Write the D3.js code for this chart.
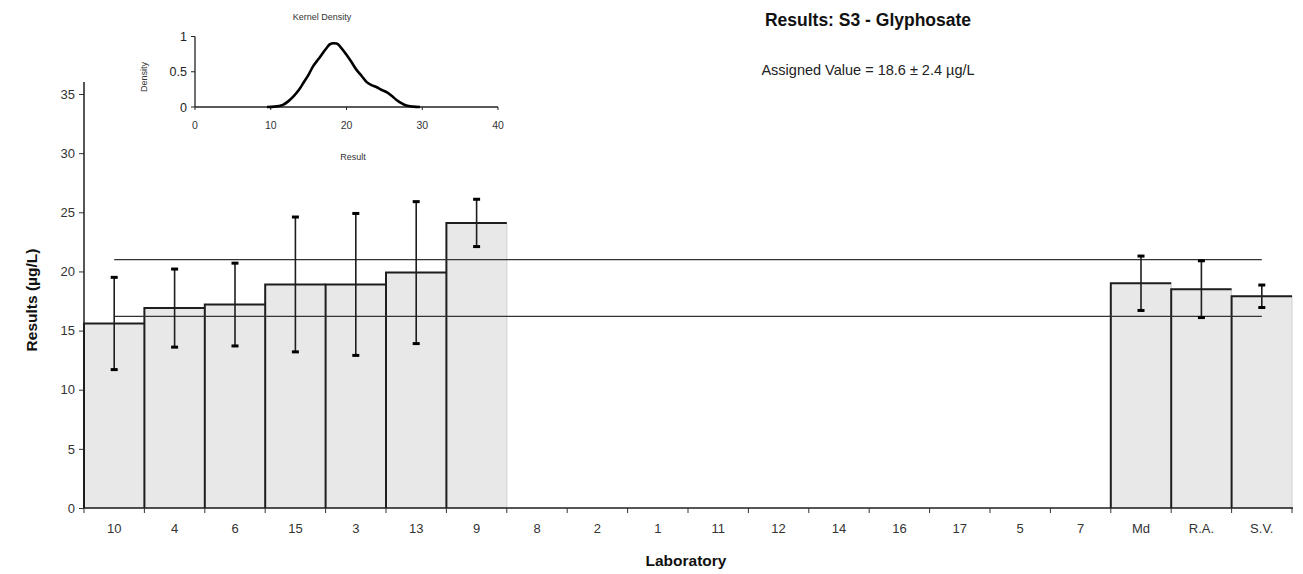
<!DOCTYPE html>
<html>
<head>
<meta charset="utf-8">
<script src="https://cdn.jsdelivr.net/npm/d3@7"></script>
<style>
  html, body { margin: 0; padding: 0; background: #fff; }
  svg { display: block; font-family: "Liberation Sans", Arial, sans-serif; }
</style>
</head>
<body>
<svg id="chart" width="1303" height="574"></svg>
<script>
// Laboratory codes in plotted order, with reported results and expanded uncertainties
const labs = ["10", "4", "6", "15", "3", "13", "9", "8", "2", "1", "11", "12", "14", "16", "17", "5", "7", "Md", "R.A.", "S.V."];
const results = [15.6, 16.9, 17.2, 18.9, 18.9, 19.9, 24.1, null, null, null, null, null, null, null, null, null, null, 19.0, 18.5, 17.9];
const uncertainties = [3.9, 3.3, 3.5, 5.7, 6.0, 6.0, 2.0, null, null, null, null, null, null, null, null, null, null, 2.3, 2.4, 0.95];
const yTicks = [0, 5, 10, 15, 20, 25, 30, 35];

// Assigned value and its uncertainty
const assignedValue = 18.6;
const assignedUnc = 2.4;

// Kernel density estimate of the reported results
const kdResult = [9.5, 10.5, 11.6, 12.3, 13.0, 13.7, 14.3, 15.0, 15.6, 16.3, 16.9, 17.4, 17.8, 18.3, 18.7, 19.3, 20.0, 20.7, 21.3, 22.0, 22.6, 23.3, 24.0, 24.6, 25.3, 26.0, 26.6, 27.3, 27.9, 28.8, 29.7];
const kdDensity = [0.0, 0.005, 0.03, 0.08, 0.15, 0.24, 0.34, 0.46, 0.58, 0.68, 0.77, 0.84, 0.89, 0.905, 0.9, 0.84, 0.74, 0.63, 0.53, 0.44, 0.36, 0.31, 0.28, 0.245, 0.21, 0.155, 0.1, 0.05, 0.02, 0.005, 0.0];
const kdXTicks = [0, 10, 20, 30, 40];
const kdYTicks = [0, 0.5, 1];

const svg = d3.select("#chart");
const ink = "#1e1e1e";

// ---- Main chart scales ----
const x = d3.scaleBand().domain(labs).range([84, 1292]).padding(0);
const y = d3.scaleLinear().domain([0, 35]).range([508, 94]);

// Bars
const rows = labs.map((lab, i) => ({ lab, v: results[i], u: uncertainties[i] })).filter(d => d.v != null);

const bars = svg.append("g");
bars.selectAll("rect").data(rows).join("rect")
  .attr("x", d => x(d.lab))
  .attr("y", d => y(d.v))
  .attr("width", x.bandwidth())
  .attr("height", d => y(0) - y(d.v))
  .attr("fill", "#e8e8e8")
  .attr("stroke", "#d0d0d0")
  .attr("stroke-width", 1);

// Dark left and top edges of each bar
bars.selectAll("path.edge").data(rows).join("path")
  .attr("class", "edge")
  .attr("d", d => `M${x(d.lab)},${y(0)}V${y(d.v)}H${x(d.lab) + x.bandwidth()}`)
  .attr("fill", "none")
  .attr("stroke", ink)
  .attr("stroke-width", 2);

// Assigned value ± uncertainty lines
const xFirst = x(labs[0]) + x.bandwidth() / 2;
const xLast = x(labs[labs.length - 1]) + x.bandwidth() / 2;
svg.append("g").selectAll("line").data([assignedValue + assignedUnc, assignedValue - assignedUnc]).join("line")
  .attr("x1", xFirst).attr("x2", xLast)
  .attr("y1", d => y(d)).attr("y2", d => y(d))
  .attr("stroke", "#333").attr("stroke-width", 1.3);

// Error bars
const eb = svg.append("g");
eb.selectAll("line").data(rows).join("line")
  .attr("x1", d => x(d.lab) + x.bandwidth() / 2)
  .attr("x2", d => x(d.lab) + x.bandwidth() / 2)
  .attr("y1", d => y(d.v + d.u))
  .attr("y2", d => y(d.v - d.u))
  .attr("stroke", ink).attr("stroke-width", 1.6);
const caps = rows.flatMap(d => [{ lab: d.lab, val: d.v + d.u }, { lab: d.lab, val: d.v - d.u }]);
eb.selectAll("rect").data(caps).join("rect")
  .attr("x", d => x(d.lab) + x.bandwidth() / 2 - 3.5)
  .attr("y", d => y(d.val) - 1.5)
  .attr("width", 7).attr("height", 3)
  .attr("fill", "#000");

// Y axis
const yAxis = svg.append("g").attr("transform", "translate(84,0)")
  .call(d3.axisLeft(y).tickValues(yTicks).tickSize(5).tickPadding(4).tickFormat(d3.format("d")));
yAxis.select(".domain").remove();
yAxis.append("line").attr("x1", 0).attr("x2", 0).attr("y1", 82).attr("y2", 508)
  .attr("stroke", ink).attr("stroke-width", 1.5);
yAxis.selectAll(".tick line").attr("stroke", "#333");
yAxis.selectAll(".tick text").attr("font-size", 13).attr("fill", "#333")
  .attr("font-family", "Liberation Sans, Arial, sans-serif");

// X axis with ticks at category boundaries
const xAxis = svg.append("g").attr("transform", `translate(0,${y(0)})`);
xAxis.append("line").attr("x1", 84).attr("x2", 1293).attr("y1", 0).attr("y2", 0)
  .attr("stroke", ink).attr("stroke-width", 1.5);
const bounds = labs.map(l => x(l)).concat([x(labs[labs.length - 1]) + x.bandwidth()]);
xAxis.selectAll("line.tk").data(bounds).join("line").attr("class", "tk")
  .attr("x1", d => d).attr("x2", d => d).attr("y1", 0).attr("y2", 5)
  .attr("stroke", "#333").attr("stroke-width", 1);
xAxis.selectAll("text").data(labs).join("text")
  .attr("x", d => x(d) + x.bandwidth() / 2)
  .attr("y", 25)
  .attr("text-anchor", "middle")
  .attr("font-size", 13)
  .attr("fill", "#333")
  .text(d => d);

// Axis titles
svg.append("text").attr("x", 686).attr("y", 566).attr("text-anchor", "middle")
  .attr("font-size", 15.5).attr("font-weight", "bold").attr("fill", "#111").text("Laboratory");
svg.append("text").attr("transform", "translate(37,300) rotate(-90)").attr("text-anchor", "middle")
  .attr("font-size", 15.5).attr("font-weight", "bold").attr("fill", "#111").text("Results (µg/L)");

// Titles
svg.append("text").attr("x", 868).attr("y", 26).attr("text-anchor", "middle")
  .attr("font-size", 17.5).attr("font-weight", "bold").attr("fill", "#111").text("Results: S3 - Glyphosate");
svg.append("text").attr("x", 868).attr("y", 75).attr("text-anchor", "middle")
  .attr("font-size", 14.5).attr("fill", "#222").text("Assigned Value = 18.6 ± 2.4 µg/L");

// ---- Kernel density inset ----
const kx = d3.scaleLinear().domain([0, 40]).range([195, 498]);
const ky = d3.scaleLinear().domain([0, 1]).range([107, 36.5]);
const inset = svg.append("g");

inset.append("line").attr("x1", 195).attr("x2", 498).attr("y1", 107).attr("y2", 107)
  .attr("stroke", "#222").attr("stroke-width", 1.3);
inset.append("line").attr("x1", 195).attr("x2", 195).attr("y1", 36.5).attr("y2", 107)
  .attr("stroke", "#222").attr("stroke-width", 1.3);
inset.selectAll("line.kxt").data(kdXTicks).join("line").attr("class", "kxt")
  .attr("x1", d => kx(d)).attr("x2", d => kx(d)).attr("y1", 107).attr("y2", 110)
  .attr("stroke", "#222");
inset.selectAll("line.kyt").data(kdYTicks).join("line").attr("class", "kyt")
  .attr("x1", 191).attr("x2", 195).attr("y1", d => ky(d)).attr("y2", d => ky(d))
  .attr("stroke", "#222");
inset.selectAll("text.kxl").data(kdXTicks).join("text").attr("class", "kxl")
  .attr("x", d => kx(d)).attr("y", 129).attr("text-anchor", "middle")
  .attr("font-size", 10.5).attr("fill", "#333").text(d => d);
inset.selectAll("text.kyl").data(kdYTicks).join("text").attr("class", "kyl")
  .attr("x", 187).attr("y", d => ky(d) + 4.5).attr("text-anchor", "end")
  .attr("font-size", 12.5).attr("fill", "#222").text(d => d);

const kdPts = kdResult.map((r, i) => [r, kdDensity[i]]);
inset.append("path")
  .attr("d", d3.line().x(d => kx(d[0])).y(d => ky(d[1])).curve(d3.curveMonotoneX)(kdPts))
  .attr("fill", "none").attr("stroke", "#000").attr("stroke-width", 2.6);

inset.append("text").attr("x", 322).attr("y", 20).attr("text-anchor", "middle")
  .attr("font-size", 9).attr("fill", "#333").text("Kernel Density");
inset.append("text").attr("x", 353).attr("y", 160).attr("text-anchor", "middle")
  .attr("font-size", 9).attr("fill", "#333").text("Result");
inset.append("text").attr("transform", "translate(147,77) rotate(-90)").attr("text-anchor", "middle")
  .attr("font-size", 9).attr("fill", "#333").text("Density");
</script>
</body>
</html>
